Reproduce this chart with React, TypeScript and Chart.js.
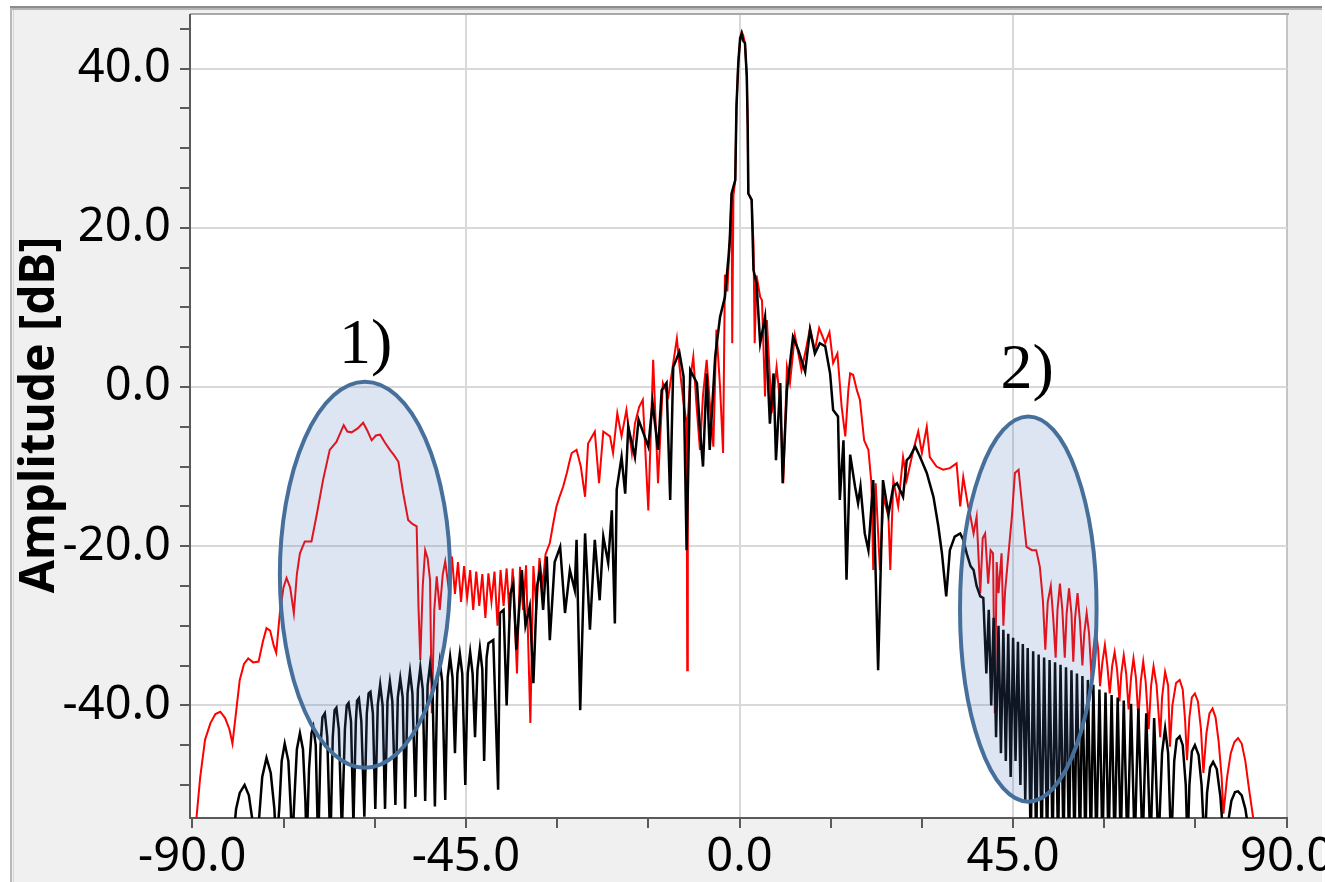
import React, { useEffect, useRef } from "react";
import { Chart, registerables } from "chart.js";

Chart.register(...registerables);

type Pt = [number, number];

// Axis ranges (angle in degrees, amplitude in dB)
const X_MIN = -90.38;
const X_MAX = 90.05;
const Y_MIN = -54.15;
const Y_MAX = 46.73;

const xTickValues = [-90, -75, -60, -45, -30, -15, 0, 15, 30, 45, 60, 75, 90];
const xLabelValues = [-90, -45, 0, 45, 90];
const xGridValues = [-45, 0, 45];
const yTickValues = [-50, -45, -40, -35, -30, -25, -20, -15, -10, -5, 0, 5, 10, 15, 20, 25, 30, 35, 40, 45];
const yLabelValues = [-40, -20, 0, 20, 40];

// Red trace
const redLeft: Pt[] = [
  [-89.6, -58], [-89.3, -54], [-88.7, -49], [-87.9, -44.3], [-87.0, -42.2], [-86.2, -41.1], [-85.4, -40.8],
  [-84.6, -41.6], [-83.9, -43], [-83.4, -44.8], [-82.9, -41.5], [-82.2, -36.8], [-81.5, -34.8], [-80.8, -34.1],
  [-80.0, -34.6], [-79.1, -34.5], [-78.4, -32.0], [-77.8, -30.3], [-77.2, -30.6], [-76.6, -32.5], [-76.2, -33.4],
  [-75.6, -28.4], [-75.0, -25.2], [-74.5, -24.0], [-73.9, -25.2], [-73.3, -28.4], [-72.8, -23.5], [-72.3, -20.9],
  [-71.5, -19.4], [-70.4, -19.4], [-69.5, -15.9], [-68.5, -11.7], [-67.4, -7.9], [-66.3, -6.9], [-65.1, -4.8],
  [-64.5, -5.6], [-63.8, -5.7], [-62.8, -5.2], [-61.9, -4.5], [-61.2, -5.5], [-60.5, -6.7], [-59.8, -6.1],
  [-59.1, -6.0], [-58.3, -7.0], [-57.5, -7.9], [-56.8, -8.6], [-56.1, -9.4], [-55.7, -11.5], [-55.3, -13.4],
  [-54.5, -16.7], [-53.8, -17.2], [-53.1, -17.5], [-52.8, -27.6], [-52.5, -34.3], [-52.1, -25], [-51.7, -20.5],
  [-51.3, -21.5], [-50.9, -24.2], [-50.6, -41.0], [-50.2, -28], [-49.8, -23.8], [-49.3, -28.0], [-48.8, -23.5],
  [-48.4, -21.9],
];
const redMid: Pt[] = [
  [-47.8, -25.5], [-47.3, -21.3], [-46.8, -26], [-46.3, -22], [-45.8, -27], [-45.3, -22.5], [-44.8, -26.5],
  [-44.3, -23], [-43.8, -28], [-43.3, -23.2], [-42.8, -27.5], [-42.3, -23.5], [-41.8, -29], [-41.3, -23.4],
  [-40.8, -27], [-40.3, -23.2], [-39.8, -30], [-39.3, -23], [-38.8, -27.5], [-38.3, -22.8], [-37.8, -29],
  [-37.3, -22.8], [-36.6, -36], [-36.1, -22.6], [-35.6, -28], [-35.1, -22.4], [-34.4, -42.2], [-33.9, -22.5],
  [-33.4, -28], [-32.9, -21.5], [-32.4, -25], [-31.9, -21], [-31.2, -19.6], [-30.6, -17], [-30.1, -15],
  [-29.6, -13.8], [-29.0, -12.5], [-28.4, -10.8], [-28.0, -9.5], [-27.6, -8.3], [-26.8, -7.9], [-26.1, -10],
  [-25.4, -13.8], [-24.9, -7.1], [-23.8, -5.6], [-23.1, -12.1], [-22.4, -5.6], [-21.3, -6.2], [-20.8, -8.3],
  [-20.1, -3.3], [-19.4, -6.2], [-18.6, -2.9], [-17.7, -8.3], [-17.2, -4.6], [-16.5, -2.5], [-15.9, -1.6],
  [-15.0, -15.5], [-14.2, 3.4], [-13.4, -12.1], [-12.6, 0.5], [-11.7, -1.2], [-11.0, 2.5], [-10.3, 6.1],
  [-9.8, 2.1], [-9.2, -2], [-8.7, -4.6], [-8.6, -35.6], [-8.5, -4], [-8.1, 1], [-7.6, 3.8], [-7.1, -2],
  [-6.5, -7.9], [-6.0, -1], [-5.4, 3.4], [-4.8, -3], [-4.3, -7.5], [-3.8, 7.2], [-3.2, 0], [-2.7, -8.3],
  [-2.4, 14.1], [-2.0, 12],
];
const redBeam: Pt[] = [
  [-1.6, 18.5], [-1.3, 24.3], [-1.2, 5.5], [-1.0, 24], [-0.7, 26], [-0.5, 35.2], [-0.2, 40.7], [0.1, 43.5],
  [0.36, 44.6], [0.6, 44.2], [0.9, 43.2], [1.2, 39], [1.35, 32.7], [1.45, 24.3], [2.0, 23.5], [2.3, 18],
  [2.5, 5.5], [2.8, 14], [3.4, 11.3],
];
const redRight: Pt[] = [
  [3.7, 10.9], [4.2, -1.2], [4.5, 8.4], [5.3, -3.3], [6.1, 2.5], [6.7, -2], [7.2, -12.1], [7.8, 2.5],
  [8.3, 0.5], [9.1, 6.5], [10.2, 2.1], [11.0, 5], [11.6, 7.4], [12.4, 4.6], [13.1, 7.4], [14.1, 5.5],
  [14.8, 6.9], [15.4, 3.0], [16.1, 4.2], [16.8, -2.5], [17.4, -6.2], [17.9, -0.4], [18.2, 1.7], [18.7, 1.5],
  [19.3, -0.4], [19.8, -1.6], [20.5, -6.7], [21.2, -7.9], [21.7, -12.1], [22.0, -23], [22.4, -12.1],
  [23.1, -23], [23.7, -13.8], [24.5, -16.3], [24.8, -23], [25.3, -11.7], [26.1, -15], [26.9, -8.8],
  [27.5, -11.7], [28.6, -7.9], [29.4, -5.6], [30.0, -8.3], [30.8, -5.0], [31.3, -8.8], [32.4, -10.0],
  [33.5, -10.4], [34.6, -10.2], [35.7, -9.6], [36.3, -15.0], [36.8, -11.3], [37.6, -15.0], [37.9, -15.9],
  [38.5, -18.4], [39.0, -16.3], [39.6, -25.9], [40.0, -19], [40.4, -18.4], [40.9, -24.7], [41.3, -20.5],
  [41.7, -20.9], [42.0, -41], [42.3, -22], [42.6, -25.9], [43.1, -20.9], [43.4, -30], [43.7, -25.5],
  [44.2, -21.3], [44.8, -16.3], [45.3, -10.8], [45.9, -10.4], [46.4, -14.2], [47.2, -20.1], [48.1, -20.5],
  [48.8, -20.5], [49.4, -22.6], [49.9, -26.8], [50.3, -33], [50.7, -27], [51.2, -25], [51.6, -29], [52.0, -34],
  [52.3, -28], [52.7, -24.7], [53.1, -28], [53.5, -34], [53.8, -28.5], [54.2, -25.3], [54.6, -28.5],
  [54.9, -34.5], [55.2, -29], [55.6, -25.9], [56.0, -29.5], [56.4, -35], [56.7, -31], [57.1, -28.4],
  [57.5, -31], [57.9, -36.5], [58.2, -33], [58.6, -30.5], [59.0, -33], [59.3, -37.6], [59.7, -34.5],
  [60.1, -32.4], [60.5, -35], [60.9, -38.5], [61.3, -35], [61.7, -33.3], [62.1, -35.5], [62.5, -39.5],
  [62.8, -36], [63.2, -33.7], [63.6, -36], [64.0, -40.5], [64.4, -36.5], [64.8, -34.1], [65.2, -36.5],
  [65.6, -41.5], [66.0, -37], [66.4, -34.5], [66.8, -37], [67.3, -43], [67.7, -37.5], [68.1, -35.1],
  [68.6, -37.5], [69.2, -44], [69.5, -39], [70.0, -35.8], [70.5, -37.5], [70.8, -45.2], [71.2, -40],
  [71.8, -37.2], [72.4, -36.8], [72.9, -38], [73.3, -42], [73.6, -46.9], [74.0, -41.5], [74.4, -39],
  [74.9, -38.5], [75.4, -39.5], [75.9, -43], [76.3, -48.5], [76.8, -43.5], [77.3, -41], [77.8, -40.4],
  [78.3, -41.5], [78.8, -44.5], [79.3, -49], [79.6, -53.6], [80.2, -49], [80.8, -46], [81.4, -44.6],
  [82.0, -44.1], [82.6, -44.8], [83.2, -47], [83.8, -50.5], [84.5, -54.2], [84.8, -58],
];

// Black trace
const blackLeft: Pt[] = [
  [-83.4, -58], [-82.8, -53], [-82.2, -51], [-81.4, -50.0], [-80.7, -51.3], [-80.1, -54.5], [-79.8, -58],
  [-79.0, -54], [-78.5, -49], [-77.8, -46.6], [-77.1, -48.5], [-76.5, -53], [-76.2, -58],
  [-75.7, -53], [-75.3, -47], [-74.8, -44.8], [-74.2, -47], [-73.8, -53], [-73.6, -58],
  [-73.1, -50], [-72.8, -45.5], [-72.3, -43.5], [-71.8, -45.5], [-71.4, -52], [-71.2, -58],
  [-70.8, -48], [-70.4, -43.5], [-70.1, -42.7], [-69.7, -45], [-69.3, -58],
  [-68.9, -45], [-68.6, -41.5], [-68.2, -41.0], [-67.8, -44], [-67.3, -58],
  [-66.9, -44], [-66.6, -40.6], [-66.3, -40.3], [-65.9, -43], [-65.4, -56],
  [-64.9, -43], [-64.6, -40], [-64.3, -39.7], [-63.9, -42], [-63.5, -55],
  [-63.1, -42], [-62.9, -39.4], [-62.6, -39.1], [-62.2, -42], [-61.7, -54],
  [-61.3, -41], [-61.0, -38.5], [-60.7, -38.3], [-60.3, -41], [-59.9, -53],
  [-59.5, -40], [-59.1, -37.4], [-58.7, -40], [-58.3, -53],
  [-57.9, -39.5], [-57.5, -37.0], [-57.1, -39.5], [-56.6, -52.5],
  [-56.2, -39], [-55.8, -36.6], [-55.4, -39], [-55.0, -53],
  [-54.6, -38.5], [-54.2, -35.8], [-53.8, -38.5], [-53.3, -51.5],
  [-52.9, -38], [-52.5, -35.3], [-52.1, -38], [-51.7, -52],
  [-51.3, -37.5], [-50.9, -34.9], [-50.5, -37.5], [-50.1, -52.7],
  [-49.7, -37], [-49.3, -34.5], [-48.9, -37], [-48.4, -51.9],
  [-48.0, -36.5], [-47.6, -33.9], [-47.2, -36.5], [-46.8, -46],
  [-46.4, -36], [-46.0, -33.5], [-45.6, -36], [-45.1, -50],
  [-44.7, -36], [-44.3, -33.3], [-43.9, -36], [-43.5, -44],
  [-43.1, -35.5], [-42.7, -32.8], [-42.3, -35.5], [-42.0, -47],
  [-41.6, -34], [-41.3, -32.2],
];
const blackMid: Pt[] = [
  [-40.5, -31.8], [-39.7, -50.6], [-39.4, -28.4], [-38.8, -28.0], [-38.3, -40], [-37.7, -26], [-37.2, -24.7],
  [-36.7, -33], [-35.8, -23], [-35.2, -30], [-34.5, -27.6], [-33.9, -37.2], [-33.3, -25], [-32.8, -23],
  [-32.3, -28], [-31.7, -21.3], [-31.2, -31.8], [-30.4, -22], [-29.5, -20.1], [-28.7, -28.4], [-27.9, -23],
  [-27.1, -25.5], [-26.8, -19.2], [-26.2, -40.6], [-25.4, -18.4], [-24.6, -30.5], [-23.8, -19.2],
  [-23.0, -26.8], [-22.4, -18.8], [-21.6, -22.1], [-21.0, -15.5], [-20.5, -29.7], [-20.2, -12.9],
  [-19.4, -8.8], [-18.8, -13.4], [-18.3, -5.0], [-17.2, -8.8], [-16.6, -4.1], [-15.8, -5.8], [-15.0, -7.5],
  [-14.3, -2.0], [-13.4, -7.9], [-12.8, -0.4], [-12.0, 0.5], [-11.4, -14.2], [-10.9, 2.5], [-9.9, 4.4],
  [-9.2, 1.3], [-8.7, -20.5], [-8.1, 2.1], [-7.0, 0.5], [-6.5, -5.4], [-6.0, -10.0], [-5.4, 1.7],
  [-4.9, -7.9], [-4.0, 3.8], [-3.2, 8.8], [-2.4, 11.3], [-2.1, 13.9],
];
const blackBeam: Pt[] = [
  [-1.8, 16.4], [-1.6, 18.5], [-1.3, 24.3], [-0.7, 26], [-0.5, 35.2], [-0.2, 40.7], [0.1, 43.8],
  [0.36, 44.4], [0.6, 43.5], [0.9, 43.2], [1.2, 39], [1.35, 32.7], [1.45, 24.3], [2.0, 23.5], [2.3, 14.7],
  [2.8, 13.0], [3.4, 5.5],
];
const blackRight: Pt[] = [
  [4.2, 8.8], [5.0, -4.6], [5.6, 1.7], [6.0, -9.2], [6.7, 0.5], [7.1, -12.1], [7.8, -0.4], [8.8, 6.3],
  [9.7, 4.6], [10.8, 1.9], [11.6, 7.2], [12.4, 4.2], [13.2, 5.5], [14.1, 5.1], [14.9, 1.7], [15.4, -2.9],
  [16.2, -3.7], [16.5, -14.2], [17.1, -6.7], [17.6, -24.2], [18.2, -8.5], [19.0, -12.5], [19.5, -14.6],
  [19.9, -12.5], [20.6, -18.4], [21.2, -20.5], [22.0, -11.7], [22.8, -35.6], [23.6, -11.7], [24.5, -16],
  [25.3, -12.5], [25.9, -12.1], [26.9, -13.8], [27.5, -9.2], [28.0, -8.8], [28.9, -7.5], [29.7, -8.8],
  [30.8, -10.8], [31.9, -13.8], [32.7, -17.5], [33.3, -20.9], [34.0, -26.3], [34.6, -20.5], [35.4, -18.8],
  [36.3, -18.4], [36.8, -19.2], [37.4, -21], [38.0, -22.5], [38.5, -23], [39.0, -25], [39.6, -26.3],
  [40.1, -26.5], [40.6, -36], [41.0, -28], [41.4, -40], [41.8, -29], [42.2, -44], [42.6, -30], [43.0, -46],
  [43.4, -30.5], [43.8, -47], [44.2, -31], [44.6, -49], [45.0, -31.5], [45.4, -47], [45.8, -32], [46.2, -50],
  [46.6, -32.3], [47.0, -52], [47.4, -32.8], [47.9, -58], [48.3, -33.2], [48.8, -58], [49.2, -33.6],
  [49.7, -58], [50.1, -34], [50.6, -58], [51.0, -34.3], [51.5, -58], [51.9, -34.6], [52.4, -58],
  [52.8, -34.9], [53.3, -58], [53.7, -35.2], [54.2, -58], [54.6, -35.6], [55.1, -58], [55.5, -36],
  [56.0, -58], [56.4, -36.3], [56.9, -58], [57.3, -36.8], [57.8, -58], [58.2, -37.4], [58.7, -58],
  [59.2, -38], [59.7, -58], [60.2, -38.4], [60.7, -58], [61.2, -38.7], [61.7, -58], [62.2, -39],
  [62.7, -58], [63.2, -39.4], [63.8, -58], [64.4, -39.8], [65.0, -58], [65.6, -40.4], [66.3, -58],
  [66.9, -41], [67.6, -58], [68.2, -41.6], [68.9, -58], [69.5, -46], [70.0, -42.9], [70.5, -46], [71.0, -58],
  [71.5, -47], [71.9, -44.3], [72.4, -43.9], [72.9, -45], [73.4, -50], [73.7, -58], [74.0, -50],
  [74.4, -45.8], [74.9, -45.0], [75.5, -46.2], [76.0, -50], [76.5, -58], [76.9, -51], [77.4, -47.8],
  [77.9, -47.1], [78.5, -48], [79.1, -51.5], [79.7, -58], [80.3, -55], [80.9, -52], [81.5, -50.9],
  [82.0, -50.8], [82.6, -51.3], [83.2, -53], [83.8, -56], [84.2, -58],
];

// Highlighted regions: label, centre (deg, dB), half-widths, label anchor
const regionLabels = ["1)", "2)"];
const regionCenterX = [-61.6, 47.5];
const regionCenterY = [-23.6, -27.9];
const regionRadiusX = [14.0, 11.23];
const regionRadiusY = [24.25, 24.2];
const regionLabelX = [-61.5, 47.3];
const regionLabelY = [3.0, -0.1];

const toXY = (pts: Pt[]) => pts.map(([x, y]) => ({ x, y }));

const TICK_FONT = "Noto Sans";

const frame = {
  id: "frame",
  beforeDraw(chart: any) {
    const { ctx, chartArea: a, width, height } = chart;
    ctx.save();
    ctx.fillStyle = "#ffffff";
    ctx.fillRect(0, 0, width, height);
    ctx.fillStyle = "#f0f0f0";
    ctx.fillRect(10, 6, 1312, height);
    ctx.fillStyle = "#b8b8b8";
    ctx.fillRect(10, 6, 2, height);
    ctx.fillStyle = "#d6d6d6";
    ctx.fillRect(13, 9, 1, height);
    ctx.fillStyle = "#8c8c8c";
    ctx.fillRect(10, 6, 1312, 2);
    ctx.fillStyle = "#b4b4b4";
    ctx.fillRect(12, 8, 1310, 2);
    ctx.fillStyle = "#ffffff";
    ctx.fillRect(a.left, a.top, a.right - a.left, a.bottom - a.top);
    ctx.fillStyle = "#a9a9a9";
    ctx.fillRect(a.left, a.top - 2, a.right - a.left + 2, 2);
    ctx.fillStyle = "#c4c4c4";
    ctx.fillRect(a.right - 1, a.top, 2, a.bottom - a.top);
    ctx.restore();
  },
  afterDatasetsDraw(chart: any) {
    const { ctx, scales } = chart;
    const xs = scales.x;
    const ys = scales.y;
    ctx.save();
    regionLabels.forEach((label, i) => {
      const cx = xs.getPixelForValue(regionCenterX[i]);
      const cy = ys.getPixelForValue(regionCenterY[i]);
      const rx = Math.abs(xs.getPixelForValue(regionCenterX[i] + regionRadiusX[i]) - cx);
      const ry = Math.abs(ys.getPixelForValue(regionCenterY[i] + regionRadiusY[i]) - cy);
      ctx.beginPath();
      ctx.ellipse(cx, cy, rx, ry, 0, 0, Math.PI * 2);
      ctx.fillStyle = "rgba(70,115,180,0.19)";
      ctx.fill();
      ctx.lineWidth = 4;
      ctx.strokeStyle = "#46709b";
      ctx.stroke();
      ctx.fillStyle = "#000000";
      ctx.font = '64px "Liberation Serif"';
      ctx.textAlign = "center";
      ctx.textBaseline = "alphabetic";
      ctx.fillText(label, xs.getPixelForValue(regionLabelX[i]), ys.getPixelForValue(regionLabelY[i]));
    });
    ctx.restore();
  },
  afterDraw(chart: any) {
    const { ctx } = chart;
    ctx.save();
    ctx.translate(54, 415);
    ctx.rotate(-Math.PI / 2);
    ctx.font = `bold 48px "${TICK_FONT}"`;
    ctx.fillStyle = "#000000";
    ctx.textAlign = "center";
    ctx.textBaseline = "alphabetic";
    ctx.fillText("Amplitude [dB]", 0, 0);
    ctx.restore();
  },
};

export default function App() {
  const ref = useRef<HTMLCanvasElement>(null);

  useEffect(() => {
    const canvas = ref.current;
    if (!canvas) return;
    const chart = new Chart(canvas, {
      type: "line",
      data: {
        datasets: [
          {
            data: toXY([...blackLeft, ...blackMid, ...blackBeam, ...blackRight]),
            borderColor: "#000000",
            borderWidth: 2.5,
            pointRadius: 0,
            tension: 0,
            fill: false,
          },
          {
            data: toXY([...redLeft, ...redMid, ...redBeam, ...redRight]),
            borderColor: "#ff0000",
            borderWidth: 2,
            pointRadius: 0,
            tension: 0,
            fill: false,
          },
        ],
      },
      options: {
        animation: false,
        responsive: false,
        devicePixelRatio: 1,
        events: [],
        layout: { padding: { left: 0, top: 15, right: 73, bottom: 0 } },
        plugins: { legend: { display: false }, tooltip: { enabled: false }, title: { display: false } },
        scales: {
          x: {
            type: "linear",
            min: X_MIN,
            max: X_MAX,
            afterBuildTicks: (scale: any) => {
              scale.ticks = xTickValues.map((value) => ({ value }));
            },
            afterFit: (scale: any) => {
              scale.height = 64;
            },
            grid: {
              color: (c: any) => (c.tick && xGridValues.includes(c.tick.value) ? "#d9d9d9" : "rgba(0,0,0,0)"),
              lineWidth: 2,
              tickColor: "#5a5a5a",
              tickWidth: 2,
              tickLength: 10,
              drawTicks: true,
            },
            border: { display: true, color: "#5a5a5a", width: 2 },
            ticks: {
              autoSkip: false,
              maxRotation: 0,
              minRotation: 0,
              padding: 1,
              color: "#000000",
              font: (c: any) => ({
                family: TICK_FONT,
                size: c.tick && xLabelValues.includes(c.tick.value) ? 47 : 1,
              }),
              callback: (v: any) => (xLabelValues.includes(v) ? Number(v).toFixed(1) : ""),
            },
          },
          y: {
            type: "linear",
            min: Y_MIN,
            max: Y_MAX,
            afterBuildTicks: (scale: any) => {
              scale.ticks = yTickValues.map((value) => ({ value }));
            },
            afterFit: (scale: any) => {
              scale.width = 190;
            },
            grid: {
              color: (c: any) => (c.tick && yLabelValues.includes(c.tick.value) ? "#d9d9d9" : "rgba(0,0,0,0)"),
              lineWidth: 2,
              tickColor: "#5a5a5a",
              tickWidth: 2,
              tickLength: 10,
              drawTicks: true,
            },
            border: { display: true, color: "#5a5a5a", width: 2 },
            ticks: {
              autoSkip: false,
              padding: 9,
              color: "#000000",
              font: (c: any) => ({
                family: TICK_FONT,
                size: c.tick && yLabelValues.includes(c.tick.value) ? 47 : 1,
              }),
              callback: (v: any) => (yLabelValues.includes(v) ? Number(v).toFixed(1) : ""),
            },
          },
        },
      },
      plugins: [frame],
    } as any);
    return () => chart.destroy();
  }, []);

  return (
    <div
      style={{
        position: "fixed",
        left: 0,
        top: 0,
        width: 1325,
        height: 882,
        overflow: "hidden",
        background: "#ffffff",
      }}
    >
      <canvas ref={ref} width={1360} height={882} style={{ display: "block", width: 1360, height: 882 }} />
    </div>
  );
}
